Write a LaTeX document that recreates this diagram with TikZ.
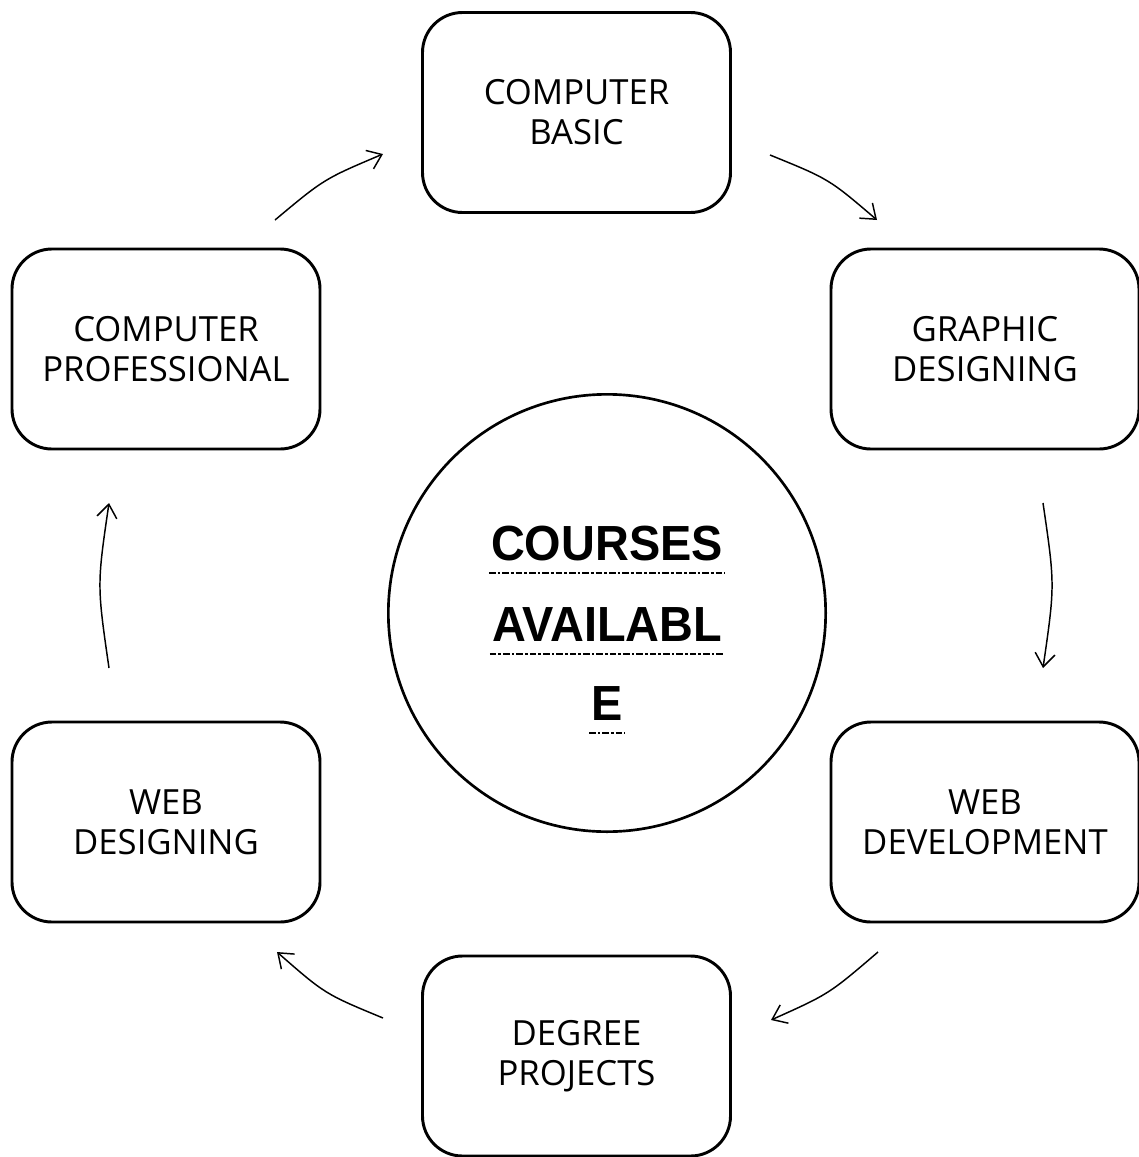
\documentclass[tikz,border=0pt]{standalone}
\usepackage{fontspec}
\setmainfont{Open Sans}
\newfontfamily\ctrfont{Liberation Sans}[FakeStretch=0.95]
\usetikzlibrary{arrows.meta,calc}
\tikzset{
  coursebox/.style={draw, line width=2.2pt, rounded corners=30pt, minimum width=231pt, minimum height=150pt, align=center, font=\fontsize{26}{30}\selectfont, inner sep=0pt},
  flow/.style={line width=1.1pt, -{Straight Barb[length=10pt,width=15pt]}},
  ctrtext/.style={anchor=base, inner sep=0pt, font=\ctrfont\bfseries\fontsize{37}{44}\selectfont},
  ul/.style={line width=2pt, dash pattern=on 5pt off 1.5pt on 2pt off 1.5pt}
}
\begin{document}
\begin{tikzpicture}[x=0.75pt,y=-0.75pt]
\useasboundingbox (0,0) rectangle (1139,1157);
\node[coursebox] (basic) at (576.5,112.5) {COMPUTER\\BASIC};
\node[coursebox] (graphic) at (985,349) {GRAPHIC\\DESIGNING};
\node[coursebox] (webdev) at (985,822) {WEB\\DEVELOPMENT};
\node[coursebox] (degree) at (576.5,1056) {DEGREE\\PROJECTS};
\node[coursebox] (webdes) at (166,822) {WEB\\DESIGNING};
\node[coursebox] (prof) at (166,349) {COMPUTER\\PROFESSIONAL};
\node[draw, circle, line width=2pt, minimum size=328pt, inner sep=0pt] (hub) at (607,613) {};
\node[ctrtext] (t1) at (607,560) {COURSES};
\node[ctrtext] (t2) at (607,641) {AVAILABL};
\node[ctrtext] (t3) at (607,720) {E};
\draw[ul] ($(t1.base west)+(-2,13)$) -- ($(t1.base east)+(2,13)$);
\draw[ul] ($(t2.base west)+(-2,13)$) -- ($(t2.base east)+(2,13)$);
\draw[ul] ($(t3.base west)+(-2,13)$) -- ($(t3.base east)+(2,13)$);
\coordinate (a1s) at (275,220); \coordinate (a1e) at (383,154);
\coordinate (a2s) at (770,155); \coordinate (a2e) at (877,220);
\coordinate (a3s) at (1043,503); \coordinate (a3e) at (1043,668);
\coordinate (a4s) at (878,952); \coordinate (a4e) at (771,1020);
\coordinate (a5s) at (383,1018); \coordinate (a5e) at (277,952);
\coordinate (a6s) at (109,668); \coordinate (a6e) at (109,503);
\draw[flow] (a1s) .. controls (324,179) .. (a1e);
\draw[flow] (a2s) .. controls (829,179) .. (a2e);
\draw[flow] (a3s) .. controls (1055,585) .. (a3e);
\draw[flow] (a4s) .. controls (829,994) .. (a4e);
\draw[flow] (a5s) .. controls (325,994) .. (a5e);
\draw[flow] (a6s) .. controls (97,585) .. (a6e);
\end{tikzpicture}
\end{document}
